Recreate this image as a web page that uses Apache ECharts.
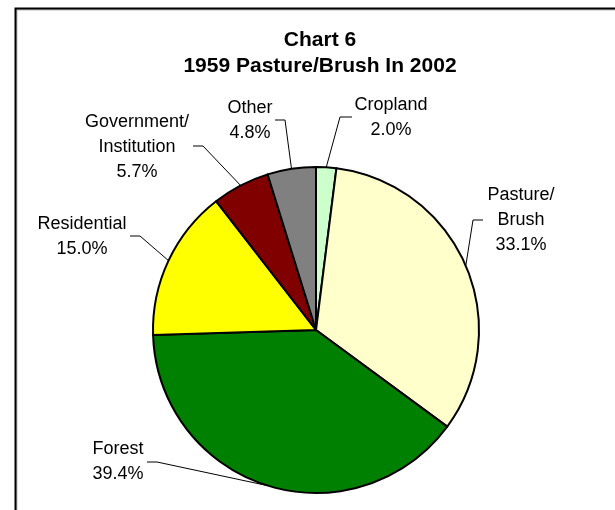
<!DOCTYPE html>
<html><head><meta charset="utf-8">
<script src="https://cdn.jsdelivr.net/npm/echarts@6/dist/echarts.min.js"></script>
<style>html,body{margin:0;padding:0;background:#fff}#c{width:615px;height:510px}</style>
</head><body><div id="c"></div>
<script>
// ---- data ----
const categories = ['Cropland', 'Pasture/Brush', 'Forest', 'Residential', 'Government/Institution', 'Other'];
const labelNames = ['Cropland', 'Pasture/\nBrush', 'Forest', 'Residential', 'Government/\nInstitution', 'Other'];
const values = [2.0, 33.1, 39.4, 15.0, 5.7, 4.8];
const titleLines = ['Chart 6', '1959 Pasture/Brush In 2002'];

// ---- style / layout ----
const colors = ['#CCFFCC', '#FFFFCC', '#008000', '#FFFF00', '#800000', '#808080'];
const CX = 316, CY = 330, R = 163;
// label anchor: text centre (x,y), elbow point, stub end point
const labelGeo = [
  {x: 391, y: 118, elbow: [340, 117], stub: [352, 117]},
  {x: 521, y: 220, elbow: [473, 220], stub: [483, 220]},
  {x: 118, y: 462, elbow: [157, 462], stub: [147, 462]},
  {x: 82,  y: 237, elbow: [140, 236], stub: [130, 236]},
  {x: 137, y: 147, elbow: [203, 146], stub: [193, 146]},
  {x: 250, y: 121, elbow: [285, 120], stub: [275, 120]}
];

const total = values.reduce((a, b) => a + b, 0);
const midAngles = [];
let acc = 0;
values.forEach(v => { midAngles.push((acc + v / 2) / total * 2 * Math.PI); acc += v; });

const chart = echarts.init(document.getElementById('c'), null, {renderer: 'canvas'});
chart.setOption({
  animation: false,
  backgroundColor: '#fff',
  title: {
    text: titleLines.join('\n'),
    left: 315, top: 22, textAlign: 'center',
    textStyle: {fontFamily: 'Liberation Sans, Arial', fontWeight: 'bold', fontSize: 21, lineHeight: 26, color: '#000'}
  },
  graphic: [{
    type: 'rect', left: 13, top: 6, silent: true,
    shape: {x: 0, y: 0, width: 700, height: 600},
    style: {fill: 'none', stroke: '#000', lineWidth: 2, shadowColor: 'rgba(0,0,0,0.25)', shadowOffsetX: 1, shadowOffsetY: 1}
  }],
  series: [{
    type: 'pie',
    center: [CX, CY],
    radius: [0, R],
    startAngle: 90,
    clockwise: true,
    avoidLabelOverlap: false,
    data: categories.map((c, i) => ({name: c, value: values[i], itemStyle: {color: colors[i]}})),
    itemStyle: {borderColor: '#000', borderWidth: 2},
    label: {
      show: true, position: 'outside',
      formatter: p => labelNames[p.dataIndex] + '\n' + values[p.dataIndex].toFixed(1) + '%',
      fontFamily: 'Liberation Sans, Arial', fontSize: 18, lineHeight: 25, color: '#000', align: 'center'
    },
    labelLine: {show: true, length: 10, length2: 10, lineStyle: {color: '#000', width: 1}},
    labelLayout: function (p) {
      const g = labelGeo[p.dataIndex];
      const a = midAngles[p.dataIndex];
      const edge = [CX + R * Math.sin(a), CY - R * Math.cos(a)];
      return {
        x: g.x, y: g.y, align: 'center', verticalAlign: 'middle',
        labelLinePoints: [edge, g.elbow, g.stub]
      };
    },
    emphasis: {disabled: true}
  }]
});
</script></body></html>
